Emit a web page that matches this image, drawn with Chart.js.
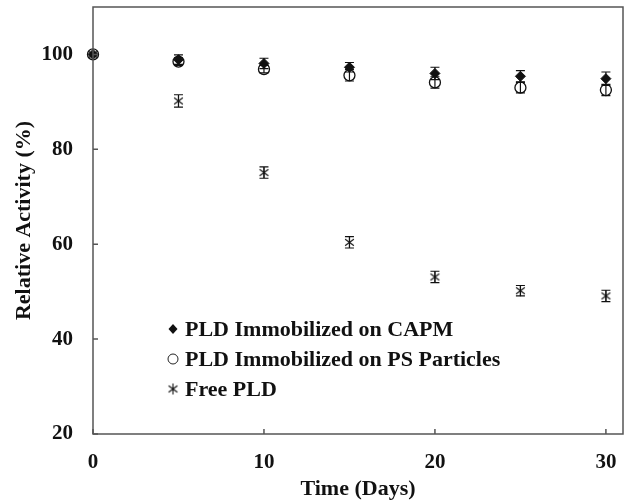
<!DOCTYPE html>
<html>
<head>
<meta charset="utf-8">
<script src="https://cdn.jsdelivr.net/npm/chart.js@4.4.1/dist/chart.umd.min.js"></script>
<style>
  html, body { margin: 0; padding: 0; background: #fff; }
  #wrap { width: 632px; height: 503px; position: relative; }
</style>
</head>
<body>
<div id="wrap"><canvas id="activityChart"></canvas></div>
<script>
// data
const days = [0, 5, 10, 15, 20, 25, 30];
const capm = [100, 98.9, 98.1, 97.3, 96.0, 95.4, 94.9];
const capmErr = [0.4, 1.0, 1.1, 1.0, 1.3, 1.2, 1.4];
const psParticles = [100, 98.5, 96.9, 95.6, 94.1, 93.0, 92.5];
const psErr = [0.4, 0.8, 0.8, 1.2, 1.2, 1.1, 1.2];
const freePld = [100, 90.2, 75.1, 60.4, 53.1, 50.2, 49.1];
const freeErr = [0.4, 1.3, 1.2, 1.2, 1.2, 1.1, 1.2];
const xTicks = [0, 10, 20, 30];
const yTicks = [20, 40, 60, 80, 100];
const seriesNames = ['PLD Immobilized on CAPM', 'PLD Immobilized on PS Particles', 'Free PLD'];

const serif = "'Liberation Serif', 'Times New Roman', serif";

// asterisk marker (X with a vertical stroke)
function makeAsterisk(size) {
    const c = document.createElement('canvas');
    c.width = size; c.height = size;
    const g = c.getContext('2d');
    const m = size / 2, r = size / 2 - 1;
    g.strokeStyle = '#111';
    g.lineWidth = 1.1;
    g.beginPath();
    g.moveTo(m, m - r); g.lineTo(m, m + r);
    g.moveTo(m - r * 0.8, m - r * 0.6); g.lineTo(m + r * 0.8, m + r * 0.6);
    g.moveTo(m - r * 0.8, m + r * 0.6); g.lineTo(m + r * 0.8, m - r * 0.6);
    g.stroke();
    return c;
}
const asterisk = makeAsterisk(13);

function toPoints(ys) {
    return days.map((d, i) => ({ x: d, y: ys[i] }));
}

const errors = [capmErr, psErr, freeErr];

const errorBars = {
    id: 'errorBars',
    beforeDatasetsDraw(chart) {
        const { ctx, scales: { x, y } } = chart;
        ctx.save();
        ctx.strokeStyle = '#111';
        ctx.lineWidth = 1.2;
        chart.data.datasets.forEach((ds, di) => {
            ds.data.forEach((p, i) => {
                const e = errors[di][i];
                if (!e || i === 0) return;
                const px = x.getPixelForValue(p.x);
                const top = y.getPixelForValue(p.y + e);
                const bot = y.getPixelForValue(p.y - e);
                ctx.beginPath();
                ctx.moveTo(px, top); ctx.lineTo(px, bot);
                ctx.moveTo(px - 4.5, top); ctx.lineTo(px + 4.5, top);
                ctx.moveTo(px - 4.5, bot); ctx.lineTo(px + 4.5, bot);
                ctx.stroke();
            });
        });
        ctx.restore();
    }
};

const frameAndTicks = {
    id: 'frameAndTicks',
    afterDraw(chart) {
        const { ctx, chartArea: a, scales: { x, y } } = chart;
        ctx.save();
        ctx.strokeStyle = '#555';
        ctx.lineWidth = 1.5;
        ctx.strokeRect(a.left, a.top, a.right - a.left, a.bottom - a.top);
        ctx.beginPath();
        xTicks.forEach(v => {
            const px = x.getPixelForValue(v);
            ctx.moveTo(px, a.bottom); ctx.lineTo(px, a.bottom - 5);
        });
        yTicks.forEach(v => {
            const py = y.getPixelForValue(v);
            ctx.moveTo(a.left, py); ctx.lineTo(a.left + 5, py);
        });
        ctx.stroke();

        // legend inside the plot
        const lx = 173, ly = [329, 359, 389];
        ctx.fillStyle = '#111';
        ctx.strokeStyle = '#222';
        ctx.lineWidth = 1;
        // diamond
        ctx.beginPath();
        ctx.moveTo(lx, ly[0] - 5); ctx.lineTo(lx + 4.5, ly[0]);
        ctx.lineTo(lx, ly[0] + 5); ctx.lineTo(lx - 4.5, ly[0]);
        ctx.closePath(); ctx.fill();
        // circle
        ctx.beginPath();
        ctx.arc(lx, ly[1], 5, 0, Math.PI * 2);
        ctx.stroke();
        // asterisk
        ctx.drawImage(asterisk, lx - 6.5, ly[2] - 6.5);

        ctx.font = 'bold 22px ' + serif;
        ctx.textBaseline = 'middle';
        ctx.textAlign = 'left';
        seriesNames.forEach((n, i) => ctx.fillText(n, 185, ly[i] + 1));
        ctx.restore();
    }
};

const ctx = document.getElementById('activityChart').getContext('2d');

new Chart(ctx, {
    type: 'scatter',
    data: {
        datasets: [
            {
                label: seriesNames[0],
                data: toPoints(capm),
                pointStyle: 'rectRot',
                pointRadius: 5,
                backgroundColor: '#111',
                borderColor: '#111',
                borderWidth: 1,
                clip: false
            },
            {
                label: seriesNames[1],
                data: toPoints(psParticles),
                pointStyle: 'circle',
                pointRadius: 5.5,
                backgroundColor: 'rgba(255,255,255,0)',
                borderColor: '#111',
                borderWidth: 1.3,
                clip: false
            },
            {
                label: seriesNames[2],
                data: toPoints(freePld),
                pointStyle: asterisk,
                pointRadius: 6,
                clip: false
            }
        ]
    },
    options: {
        responsive: true,
        maintainAspectRatio: false,
        animation: false,
        layout: { padding: { top: 7, right: 9, left: 0, bottom: 0 } },
        plugins: {
            legend: { display: false },
            tooltip: { enabled: false }
        },
        scales: {
            x: {
                type: 'linear',
                min: 0,
                max: 31,
                afterBuildTicks: s => { s.ticks = xTicks.map(v => ({ value: v })); },
                afterFit: s => { s.height = 69; s.paddingLeft = 0; s.paddingRight = 0; },
                grid: { display: false, drawTicks: false },
                border: { display: false },
                ticks: {
                    color: '#111',
                    padding: 16,
                    maxRotation: 0,
                    font: { family: serif, size: 21, weight: 'bold' }
                },
                title: {
                    display: true,
                    text: 'Time (Days)',
                    color: '#111',
                    padding: { top: 0, bottom: 0 },
                    font: { family: serif, size: 22, weight: 'bold' }
                }
            },
            y: {
                min: 20,
                max: 110,
                afterBuildTicks: s => { s.ticks = yTicks.map(v => ({ value: v })); },
                afterFit: s => { s.width = 93; s.paddingTop = 0; s.paddingBottom = 0; },
                grid: { display: false, drawTicks: false },
                border: { display: false },
                ticks: {
                    color: '#111',
                    padding: 20,
                    font: { family: serif, size: 21, weight: 'bold' }
                },
                title: {
                    display: true,
                    text: 'Relative Activity (%)',
                    color: '#111',
                    padding: { top: 11, bottom: 0 },
                    font: { family: serif, size: 22, weight: 'bold' }
                }
            }
        }
    },
    plugins: [errorBars, frameAndTicks]
});
</script>
</body>
</html>
